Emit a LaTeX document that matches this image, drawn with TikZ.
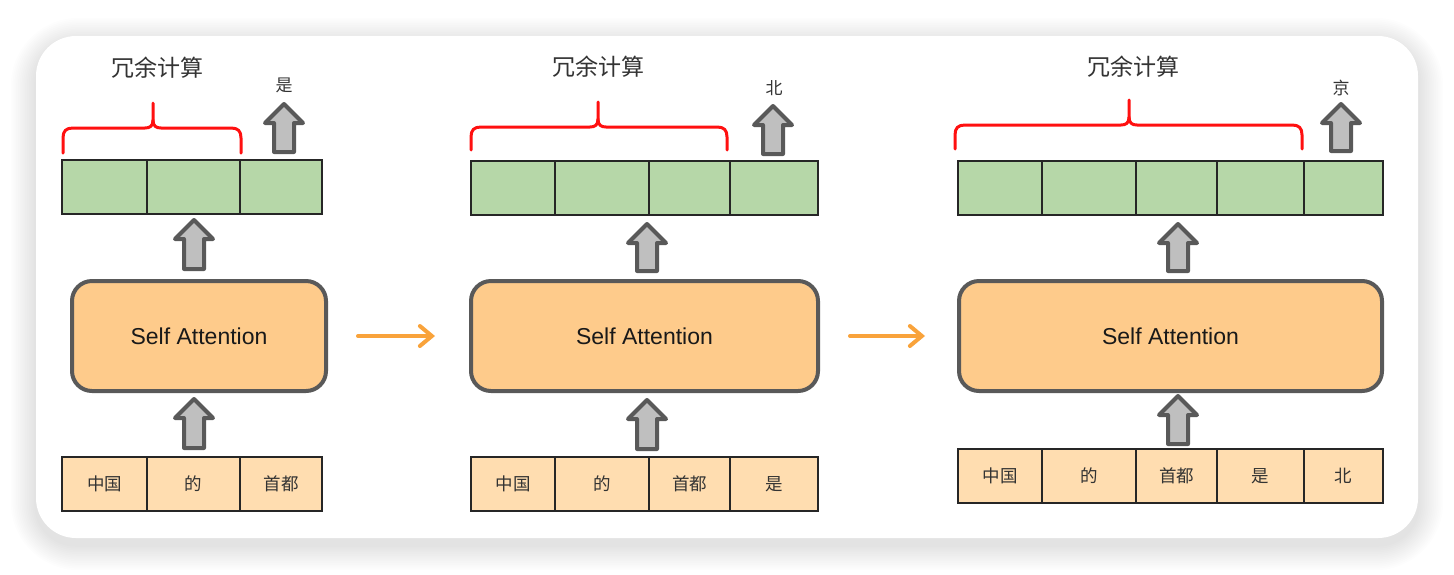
\documentclass[tikz,border=0pt]{standalone}
\usepackage{fontspec}
\setmainfont{Liberation Sans}
\newfontfamily\cjk{Noto Sans CJK SC}
\usetikzlibrary{arrows.meta}
\definecolor{gcell}{HTML}{B6D7A8}
\definecolor{icell}{HTML}{FFDDB0}
\definecolor{safill}{HTML}{FECB8B}
\definecolor{dgray}{HTML}{595959}
\definecolor{agray}{HTML}{BFBFBF}
\definecolor{orng}{HTML}{F9A33B}
\definecolor{txt}{HTML}{333333}
\definecolor{bred}{HTML}{FF1010}
\newcommand\blockup[3]{% centre x, bottom y, tip y
  \path[blockarr] (#1-10,#2-2) -- (#1-10,#3+21) -- (#1-19,#3+21) -- (#1,#3+2) -- (#1+19,#3+21) -- (#1+10,#3+21) -- (#1+10,#2-2) -- cycle;
}
\newcommand\redbrace[6]{% x0, x1, xc, yend, yh, ytip
  \draw[bracestyle] (#1,#4) -- (#1,#5+10) .. controls (#1,#5+3) and (#1+3,#5) .. (#1+10,#5) -- (#3-8,#5) .. controls (#3-3,#5) and (#3,#5-2) .. (#3,#5-8) -- (#3,#6);
  \draw[bracestyle] (#3,#5-8) .. controls (#3,#5-2) and (#3+3,#5) .. (#3+8,#5) -- (#2-10,#5) .. controls (#2-3,#5) and (#2,#5+3) .. (#2,#5+10) -- (#2,#4);
}
% box node: style, name, x0, x1, y0, y1, text
\newcommand\boxnode[7]{%
  \pgfmathsetmacro\bcx{(#3+#4)/2}\pgfmathsetmacro\bcy{(#5+#6)/2}%
  \pgfmathsetmacro\bw{(#4-#3)*0.5}\pgfmathsetmacro\bh{(#6-#5)*0.5}%
  \node[#1, minimum width=\bw pt, minimum height=\bh pt] (#2) at (\bcx,\bcy) {#7};
}
\tikzset{
  cellbase/.style={inner sep=0pt, line width=1pt, draw=black!85},
  gc/.style={cellbase, fill=gcell},
  ic/.style={cellbase, fill=icell, text=txt, font=\cjk\fontsize{8.75}{10}\selectfont},
  sabox/.style={inner sep=0pt, line width=2pt, draw=dgray, fill=safill, rounded corners=10pt, text=black!90, font=\fontsize{11.5}{13}\selectfont},
  blockarr/.style={draw=dgray, fill=agray, line width=2pt, line join=round},
  bracestyle/.style={draw=bred, line width=1.5pt, line cap=round},
  redund/.style={text=txt, font=\cjk\fontsize{11.5}{13}\selectfont},
  outlbl/.style={text=txt, font=\cjk\fontsize{8.5}{10}\selectfont},
  flow/.style={draw=orng, line width=2pt, line cap=round, -{Straight Barb[length=6pt,width=10pt,line cap=round]}},
}
\begin{document}
\begin{tikzpicture}[x=0.5pt,y=-0.5pt]
\useasboundingbox (0,0) rectangle (1454,574);
\fill[white] (0,0) rectangle (1454,574);
% shadow of the card
\foreach \i in {1,...,14}{
  \pgfmathsetmacro\rr{20+\i}
  \fill[black,opacity=0.008,rounded corners=\rr pt] (36-\i*1.8,36-\i*1.8+7) rectangle (1418+\i*1.8,538+\i*1.8+7);
}
\fill[white,rounded corners=20pt] (36,36) rectangle (1418,538);

% ---------------- panel 1 ----------------
\boxnode{gc}{g11}{62}{147}{160}{214}{}
\boxnode{gc}{g12}{147}{240}{160}{214}{}
\boxnode{gc}{g13}{240}{322}{160}{214}{}
\boxnode{sabox}{sa1}{72}{326}{281}{391}{Self Attention}
\boxnode{ic}{i11}{62}{147}{457}{511}{中国}
\boxnode{ic}{i12}{147}{240}{457}{511}{的}
\boxnode{ic}{i13}{240}{322}{457}{511}{首都}
\blockup{284}{154}{102}
\blockup{194}{271}{218}
\blockup{194}{450}{397}
\redbrace{63}{241}{153}{153}{128}{103}
\node[redund] (r1) at (157,68) {冗余计算};
\node[outlbl] (o1) at (284,85) {是};

% ---------------- panel 2 ----------------
\boxnode{gc}{g21}{471}{555}{161}{215}{}
\boxnode{gc}{g22}{555}{649}{161}{215}{}
\boxnode{gc}{g23}{649}{730}{161}{215}{}
\boxnode{gc}{g24}{730}{818}{161}{215}{}
\boxnode{sabox}{sa2}{471}{818}{281}{391}{Self Attention}
\boxnode{ic}{i21}{471}{555}{457}{511}{中国}
\boxnode{ic}{i22}{555}{649}{457}{511}{的}
\boxnode{ic}{i23}{649}{730}{457}{511}{首都}
\boxnode{ic}{i24}{730}{818}{457}{511}{是}
\blockup{773}{156}{104}
\blockup{647}{273}{222}
\blockup{647}{451}{398}
\redbrace{471}{727}{598}{150}{127}{102}
\node[redund] (r2) at (598,67) {冗余计算};
\node[outlbl] (o2) at (774,88) {北};

% ---------------- panel 3 ----------------
\boxnode{gc}{g31}{958}{1042}{161}{215}{}
\boxnode{gc}{g32}{1042}{1136}{161}{215}{}
\boxnode{gc}{g33}{1136}{1217}{161}{215}{}
\boxnode{gc}{g34}{1217}{1304}{161}{215}{}
\boxnode{gc}{g35}{1304}{1383}{161}{215}{}
\boxnode{sabox}{sa3}{959}{1382}{281}{391}{Self Attention}
\boxnode{ic}{i31}{958}{1042}{449}{503}{中国}
\boxnode{ic}{i32}{1042}{1136}{449}{503}{的}
\boxnode{ic}{i33}{1136}{1217}{449}{503}{首都}
\boxnode{ic}{i34}{1217}{1304}{449}{503}{是}
\boxnode{ic}{i35}{1304}{1383}{449}{503}{北}
\blockup{1341}{153}{102}
\blockup{1178}{273}{222}
\blockup{1178}{446}{394}
\redbrace{955}{1302}{1129}{149}{125}{100}
\node[redund] (r3) at (1133,67) {冗余计算};
\node[outlbl] (o3) at (1341,88) {京};

% ---------------- flow arrows ----------------
\draw[flow, shorten <=15pt, shorten >=17pt] (sa1.east) -- (sa2.west);
\draw[flow, shorten <=15pt, shorten >=16pt] (sa2.east) -- (sa3.west);
\end{tikzpicture}
\end{document}
